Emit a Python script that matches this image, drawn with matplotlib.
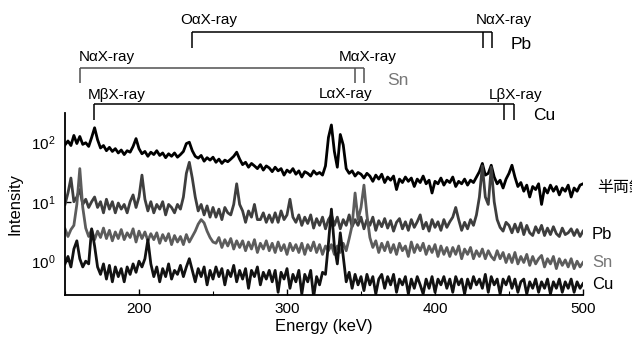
import numpy as np
import matplotlib
matplotlib.use("Agg")
import matplotlib.pyplot as plt
import matplotlib.transforms as mtransforms
from matplotlib.ticker import LogLocator, NullLocator, MultipleLocator

plt.rcParams['font.family'] = ['Liberation Sans', 'DejaVu Sans']

# energy grid (keV), one value every 2 keV
energy = np.arange(150, 501, 2)

# intensity
hanryosen = [90, 105, 88, 130, 95, 125, 92, 98, 85, 120,
             175, 110, 80, 88, 72, 82, 70, 78, 66, 74,
             62, 72, 68, 85, 115, 78, 64, 70, 58, 68,
             62, 72, 60, 66, 55, 64, 58, 66, 56, 62,
             70, 95, 100, 72, 58, 54, 60, 48, 55, 50,
             56, 46, 52, 44, 50, 47, 52, 58, 68, 52,
             42, 46, 38, 44, 40, 36, 42, 34, 40, 37,
             32, 38, 33, 36, 28, 34, 31, 36, 29, 33,
             26, 32, 30, 27, 33, 29, 31, 28, 40, 120,
             195, 70, 38, 135, 90, 36, 30, 33, 27, 31,
             29, 25, 30, 27, 22, 28, 24, 29, 21, 26,
             23, 27, 16, 24, 21, 26, 22, 25, 18, 24,
             21, 27, 20, 23, 14, 22, 20, 25, 19, 23,
             21, 26, 18, 22, 20, 24, 19, 23, 21, 26,
             32, 44, 28, 30, 41, 26, 20, 23, 17, 24,
             30, 41, 26, 18, 21, 15, 19, 12, 18, 16,
             20, 9, 17, 14, 19, 15, 18, 13, 17, 15,
             19, 12, 17, 15, 19, 20]

pb = [9, 14, 25, 10, 12, 16, 9, 11, 8, 10,
      12, 8, 10, 6.5, 11, 7.5, 10, 6.5, 9.5, 7.5,
      9, 6.5, 10, 13, 8, 12, 28, 11, 7, 10,
      6.5, 9, 7.5, 10, 6, 9, 8, 6.5, 9, 7.5,
      12, 30, 46, 25, 12, 7, 9, 6, 8.5, 5.5,
      8, 5.5, 7.5, 5, 8, 6.5, 6, 9, 20, 9,
      7, 4.5, 7, 5.5, 9, 5, 5, 6.5, 4.5, 6,
      4.5, 6.5, 4.5, 7, 5, 6, 11, 5.5, 4.5, 6,
      4, 5.5, 4.3, 6, 3.6, 5.2, 4, 5.5, 3.5, 5,
      6, 4, 5.5, 3.5, 5, 4, 6, 3.8, 5, 4,
      5.5, 3.5, 5, 4, 5.5, 3.3, 4.8, 3.8, 5.2, 3.6,
      4.8, 3.2, 4.5, 5.2, 3.5, 4.6, 3.3, 5, 3.7, 4.6,
      6, 3.5, 4.5, 3.2, 5, 3.7, 4.6, 3.3, 5, 3.7,
      4.6, 5.5, 8, 5, 3.3, 4.5, 3.5, 5, 4, 6,
      12, 40, 12, 9, 38, 10, 5, 3.7, 3.2, 4.5,
      4, 3, 4.2, 3.1, 4.4, 2.8, 4, 3, 2.7, 3.8,
      3, 4, 2.7, 3.6, 2.8, 3.8, 2.9, 2.6, 3.6, 2.8,
      3, 3.5, 2.7, 3.4, 2.6, 3.2]

sn = [3.5, 2.6, 3.4, 4, 9, 36, 8, 3.6, 2.6, 3.4,
      2.3, 3.2, 2.5, 3.6, 2.4, 3.3, 2.2, 3.1, 2.4, 3.4,
      2.3, 3, 2.5, 3.5, 2.1, 3.2, 2.4, 3.1, 2.2, 2.9,
      2.3, 3, 2, 2.8, 2.2, 2.9, 1.9, 2.7, 2.1, 2.6,
      1.9, 2.8, 2.1, 2.6, 3.2, 4.2, 5, 4.4, 3.2, 2.5,
      2.1, 2, 2.5, 1.7, 2.3, 1.8, 2.4, 1.6, 2.2, 1.7,
      2.2, 1.5, 2.1, 1.6, 2.3, 1.4, 2, 1.6, 2.2, 1.5,
      2, 1.4, 2.1, 1.5, 1.9, 1.3, 2, 1.5, 1.9, 1.4,
      2, 1.3, 1.9, 1.5, 2.1, 1.4, 1.9, 1.3, 1.8, 1.5,
      1.9, 1.3, 1.8, 1.4, 2, 1.5, 2.4, 4, 14, 5,
      8, 19, 6, 2.5, 1.7, 2.2, 1.4, 2, 1.5, 2.1,
      1.4, 1.9, 1.3, 2, 1.5, 1.8, 1.2, 2.1, 1.4, 1.9,
      1.5, 2, 1.3, 1.8, 1.4, 1.9, 1.2, 1.8, 1.3, 1.7,
      1.2, 1.7, 1.3, 1.8, 1.1, 1.6, 1.3, 1.7, 1.1, 1.5,
      1.2, 1.6, 1.1, 1.5, 1.2, 1.05, 1.5, 1.1, 1.4, 0.95,
      1.3, 0.95, 1.4, 0.9, 1.2, 0.95, 1.3, 0.85, 1.2, 0.9,
      1.1, 1.25, 0.8, 1.1, 0.9, 1.2, 0.75, 1.1, 0.85, 1.05,
      0.8, 1.1, 0.75, 1, 0.8, 0.95]

cu = [0.9, 1.2, 0.8, 1.6, 2.2, 1.1, 0.8, 1, 0.9, 3.5,
      1.8, 0.8, 0.6, 0.9, 0.5, 0.85, 0.45, 0.8, 0.55, 0.75,
      0.45, 0.8, 0.6, 0.9, 0.65, 1, 0.8, 1.1, 2.3, 0.9,
      0.55, 0.8, 0.45, 0.75, 0.55, 0.9, 0.5, 0.7, 0.6, 0.85,
      0.55, 0.8, 1.1, 0.7, 0.45, 0.75, 0.55, 0.8, 0.4, 0.7,
      0.5, 0.8, 0.55, 0.75, 0.4, 0.7, 0.55, 0.85, 0.45, 0.7,
      0.5, 0.75, 0.35, 0.7, 0.55, 0.8, 0.4, 0.65, 0.5, 0.7,
      0.45, 0.7, 0.3, 0.65, 0.5, 0.75, 0.35, 0.6, 0.45, 0.7,
      0.28, 0.6, 0.45, 0.7, 0.25, 0.55, 0.4, 0.65, 0.6, 2,
      7.5, 1.8, 0.9, 3, 1.2, 0.45, 0.65, 0.35, 0.6, 0.4,
      0.55, 0.32, 0.6, 0.4, 0.55, 0.28, 0.5, 0.6, 0.35, 0.55,
      0.4, 0.6, 0.3, 0.5, 0.4, 0.55, 0.28, 0.5, 0.35, 0.55,
      0.4, 0.28, 0.5, 0.35, 0.55, 0.3, 0.5, 0.4, 0.55, 0.35,
      0.5, 0.3, 0.55, 0.4, 0.5, 0.28, 0.5, 0.35, 0.55, 0.4,
      0.5, 0.35, 0.6, 0.3, 0.55, 0.4, 0.5, 0.28, 0.5, 0.4,
      0.55, 0.35, 0.5, 0.3, 0.45, 0.5, 0.28, 0.45, 0.35, 0.5,
      0.3, 0.45, 0.35, 0.5, 0.28, 0.45, 0.35, 0.5, 0.3, 0.45,
      0.35, 0.5, 0.3, 0.45, 0.35, 0.42]

series_names = ['半両銭', 'Pb', 'Sn', 'Cu']
series_colors = ['#000000', '#3e3e3e', '#5c5c5c', '#121212']

# X-ray line markers (keV) and labels
pb_lines = [235.8, 432.4, 438.5]
sn_lines = [160.1, 345.7, 351.8]
cu_lines = [169.6, 446.6, 453.4]
pb_labels = ['O\u03b1X-ray', 'N\u03b1X-ray']
sn_labels = ['N\u03b1X-ray', 'M\u03b1X-ray']
cu_labels = ['M\u03b2X-ray', 'L\u03b1X-ray', 'L\u03b2X-ray']

fig = plt.figure(figsize=(6.32, 3.38), dpi=100)
ax = fig.add_axes([65/632, 43/338, 518/632, 182/338])

for vals, c in zip([hanryosen, pb, sn, cu], series_colors):
    ax.plot(energy, vals, color=c, lw=2.0)

ax.set_yscale('log')
ax.set_xlim(150, 500)
ax.set_ylim(0.27, 310)
ax.spines['top'].set_visible(False)
ax.spines['right'].set_visible(False)
ax.spines['left'].set_linewidth(1.3)
ax.spines['bottom'].set_linewidth(1.3)
ax.xaxis.set_major_locator(MultipleLocator(100))
ax.xaxis.set_minor_locator(MultipleLocator(50))
ax.yaxis.set_major_locator(LogLocator(base=10, numticks=10))
ax.yaxis.set_minor_locator(NullLocator())
ax.tick_params(which='both', direction='in', labelsize=11)
ax.tick_params(which='major', length=4, width=1)
ax.tick_params(which='minor', length=3, width=0.8)
ax.tick_params(axis='y', pad=7)
ax.tick_params(axis='x', pad=5)
ax.set_xlabel('Energy (keV)', fontsize=12, labelpad=2)
ax.set_ylabel('Intensity', fontsize=12, labelpad=6)

# brackets above the plot
tr = mtransforms.blended_transform_factory(ax.transData, ax.transAxes)

def bracket(lines, ytop, ybot, color):
    ax.plot([lines[0], lines[-1]], [ytop, ytop], color=color, lw=1.1,
            transform=tr, clip_on=False, solid_capstyle='butt')
    for e in lines:
        ax.plot([e, e], [ytop, ybot], color=color, lw=1.1,
                transform=tr, clip_on=False, solid_capstyle='butt')

bracket(pb_lines, 1.445, 1.357, 'black')
bracket(sn_lines, 1.247, 1.165, '#505050')
bracket(cu_lines, 1.049, 0.962, 'black')

ax.text(247.3, 1.511, pb_labels[0], transform=tr, ha='center', va='center', fontsize=11)
ax.text(446.6, 1.511, pb_labels[1], transform=tr, ha='center', va='center', fontsize=11)
ax.text(451.4, 1.374, 'Pb', transform=tr, ha='left', va='center', fontsize=12.5)

ax.text(178.4, 1.308, sn_labels[0], transform=tr, ha='center', va='center', fontsize=11)
ax.text(354.7, 1.308, sn_labels[1], transform=tr, ha='center', va='center', fontsize=11)
ax.text(367.6, 1.181, 'Sn', transform=tr, ha='left', va='center', fontsize=12.5, color='#777777')

ax.text(185.0, 1.099, cu_labels[0], transform=tr, ha='center', va='center', fontsize=11)
ax.text(339.9, 1.104, cu_labels[1], transform=tr, ha='center', va='center', fontsize=11)
ax.text(454.7, 1.099, cu_labels[2], transform=tr, ha='center', va='center', fontsize=11)
ax.text(466.2, 0.989, 'Cu', transform=tr, ha='left', va='center', fontsize=12.5)

# series names on the right (the first one runs off the edge as in the original)
ax.text(509.5, 0.593, series_names[0], transform=tr, ha='left', va='center',
        fontsize=11.5, family=['Noto Sans CJK JP', 'DejaVu Sans'])
ax.text(506.1, 0.335, series_names[1], transform=tr, ha='left', va='center', fontsize=12)
ax.text(506.1, 0.176, series_names[2], transform=tr, ha='left', va='center', fontsize=12,
        color='#777777')
ax.text(506.1, 0.055, series_names[3], transform=tr, ha='left', va='center', fontsize=12)

fig.savefig('out.png', dpi=100)
